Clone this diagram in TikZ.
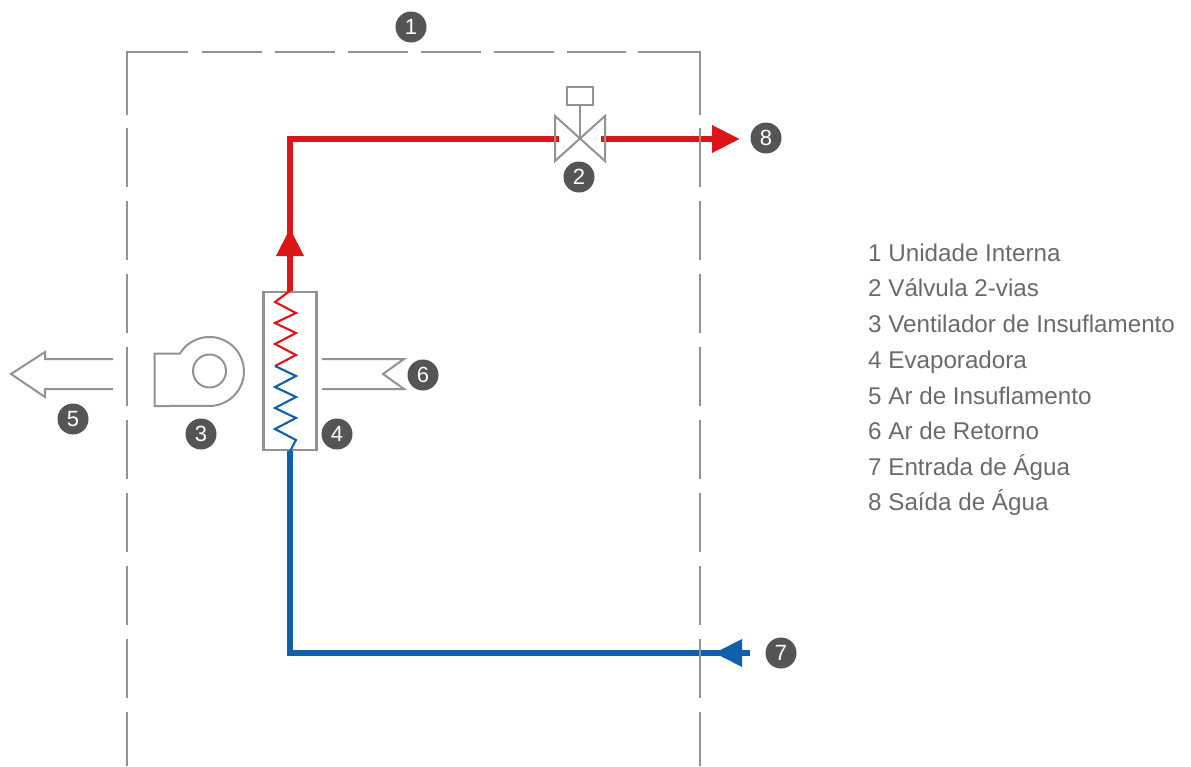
\documentclass[tikz,border=0pt]{standalone}
\usepackage{fontspec}
\setmainfont{Liberation Sans}
\usetikzlibrary{arrows.meta}
\definecolor{pipered}{HTML}{DC1518}
\definecolor{pipeblue}{HTML}{0F5FAA}
\definecolor{badgegray}{HTML}{555555}
\definecolor{linegray}{HTML}{929292}
\definecolor{textgray}{HTML}{6A6A6A}
\tikzset{
  badge/.style={circle, fill=badgegray, text=white, inner sep=0pt, minimum size=31pt, font=\fontsize{22}{22}\selectfont},
  symbol/.style={draw=linegray, line width=2pt},
  wall/.style={draw=linegray, line width=1.3pt},
  redpipe/.style={draw=pipered, line width=6.5pt},
  bluepipe/.style={draw=pipeblue, line width=6pt},
  legend/.style={anchor=base west, inner sep=0pt, text=textgray, font=\fontsize{24.2}{24.2}\selectfont},
  pipetip/.style={-{Triangle[length=28pt,width=26pt]}}
}
\begin{document}
\begin{tikzpicture}[x=1pt,y=-1pt]
\useasboundingbox (0,0) rectangle (1191,766);

\coordinate (bend) at (290,139);
\coordinate (redup) at (290,228);
\coordinate (redjoin) at (290,244);
\coordinate (valvein) at (559,139);
\coordinate (valveout) at (601,139);
\coordinate (redend) at (740,139);
\coordinate (bluestart) at (750,653);
\coordinate (bluetip) at (714,653);
\coordinate (bluejoin) at (726,653);
\coordinate (bluebend) at (290,653);

\node[draw=linegray, line width=2.5pt, minimum width=53pt, minimum height=158pt, inner sep=0pt] (evap) at (290,371) {};

% water
\draw[redpipe, pipetip] (evap.north) -- (redup);
\draw[redpipe] (redjoin) -- (bend) -- (valvein);
\draw[redpipe, pipetip] (valveout) -- (redend);
\draw[bluepipe, pipetip] (bluestart) -- (bluetip);
\draw[bluepipe] (bluejoin) -- (bluebend) -- (evap.south);

% coil
\draw[pipered, line width=2.1pt] (evap.north) -- (275,302) -- (296,313) -- (275,323) -- (296,333) -- (275,344) -- (296,355) -- (275,366);
\draw[pipeblue, line width=2.1pt] (275,366) -- (296,376) -- (275,387) -- (296,397) -- (275,408) -- (296,418) -- (275,429) -- (296,440) -- (evap.south);

% valve
\draw[symbol] (555,116) -- (605,161) -- (605,116) -- (555,161) -- cycle;
\node[draw=linegray, line width=2pt, minimum width=26pt, minimum height=18pt, inner sep=0pt] (actuator) at (580,96) {};
\coordinate (valvemid) at (580,138.5);
\draw[symbol] (actuator) -- (valvemid);

% fan
\draw[symbol] (154.5,353.5) -- (180,353.5) arc[start angle=211.4, end angle=450, radius=34.5] -- (154.5,406) -- cycle;
\node[draw=linegray, line width=2pt, circle, minimum size=33pt, inner sep=0pt] (fanhub) at (209.5,371) {};

% air
\draw[symbol] (113,359) -- (45,359) -- (45,352) -- (11,374) -- (45,397) -- (45,389) -- (113,389);
\draw[symbol] (322,359) -- (404,359) -- (383,374) -- (404,389) -- (322,389);

% unit outline
\draw[wall] (127,115) -- (127,52) -- (188,52);
\draw[wall] (638,52) -- (700,52) -- (700,115);
\draw[wall, dash pattern=on 60pt off 13pt] (202,52) -- (626,52);
\draw[wall, dash pattern=on 59pt off 14pt] (127,128) -- (127,766);
\draw[wall, dash pattern=on 59pt off 14pt] (700,128) -- (700,766);

\node[badge] (n1) at (411,27) {1};
\node[badge] (n2) at (579,177) {2};
\node[badge] (n3) at (201,434) {3};
\node[badge] (n4) at (337,434) {4};
\node[badge] (n5) at (73,419) {5};
\node[badge] (n6) at (423,375) {6};
\node[badge] (n7) at (781,653) {7};
\node[badge] (n8) at (766,138) {8};

\node[legend] (leg1) at (868,261) {1 Unidade Interna};
\node[legend] (leg2) at (868,296) {2 Válvula 2-vias};
\node[legend] (leg3) at (868,332) {3 Ventilador de Insuflamento};
\node[legend] (leg4) at (868,368) {4 Evaporadora};
\node[legend] (leg5) at (868,404) {5 Ar de Insuflamento};
\node[legend] (leg6) at (868,439) {6 Ar de Retorno};
\node[legend] (leg7) at (868,475) {7 Entrada de Água};
\node[legend] (leg8) at (868,510) {8 Saída de Água};
\end{tikzpicture}
\end{document}
